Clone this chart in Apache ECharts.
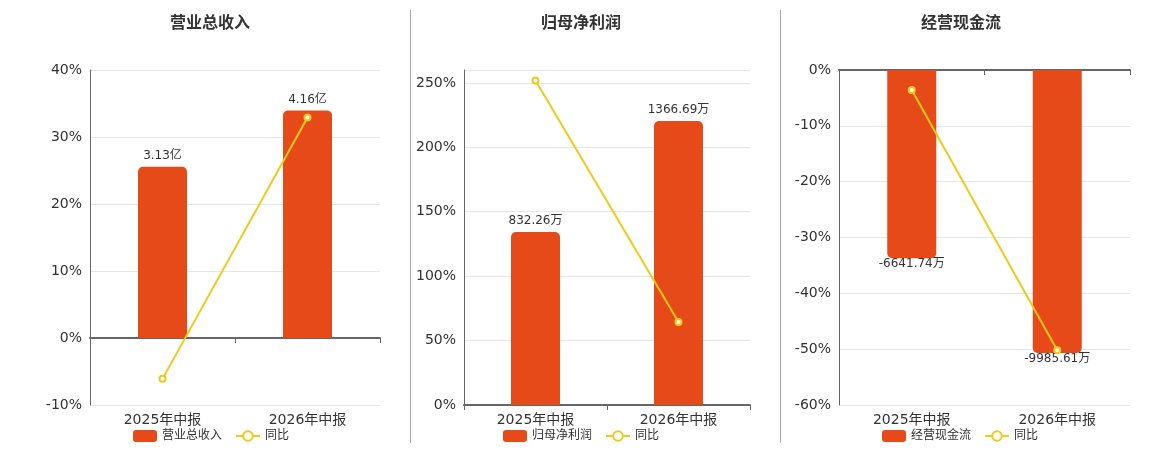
<!DOCTYPE html>
<html>
<head>
<meta charset="utf-8">
<script src="https://cdn.jsdelivr.net/npm/echarts@6/dist/echarts.min.js"></script>
<style>
html,body{margin:0;padding:0;background:#fff}
#main{width:1160px;height:450px}
</style>
</head>
<body>
<div id="main"></div>
<script>
// 数据
var categories = ['2025年中报', '2026年中报'];
var panelTitles = ['营业总收入', '归母净利润', '经营现金流'];
var yoyName = '同比';
var revenue = [3.13, 4.16];            // 亿
var revenueYoy = [-6.1, 32.9];         // %
var netProfit = [832.26, 1366.69];     // 万
var netProfitYoy = [251.8, 64.4];      // %
var cashFlow = [-6641.74, -9985.61];   // 万
var cashFlowYoy = [-3.6, -50.2];       // %

var barColor = '#E64A19';
var lineColor = '#F2C81A';
var font = '"DejaVu Sans", "Noto Sans CJK SC", sans-serif';

var panels = [
  {title: panelTitles[0], bars: revenue, yoy: revenueYoy, unit: '亿', left: 90, width: 290,
   pct: {min: -10, max: 40, interval: 10}, hid: {min: -1.225, max: 4.9}, center: 210, legendLeft: 128},
  {title: panelTitles[1], bars: netProfit, yoy: netProfitYoy, unit: '万', left: 464, width: 286,
   pct: {min: 0, max: 260, interval: 50}, hid: {min: 0, max: 1612}, center: 581, legendLeft: 498},
  {title: panelTitles[2], bars: cashFlow, yoy: cashFlowYoy, unit: '万', left: 839, width: 291,
   pct: {min: -60, max: 0, interval: 10}, hid: {min: -11820, max: 0}, center: 961, legendLeft: 877}
];

var option = {
  animation: false,
  textStyle: {fontFamily: font},
  grid: [], xAxis: [], yAxis: [], series: [], legend: [],
  graphic: [
    {type: 'line', shape: {x1: 410.5, y1: 10, x2: 410.5, y2: 443}, style: {stroke: '#aaa', lineWidth: 1}},
    {type: 'line', shape: {x1: 780.5, y1: 10, x2: 780.5, y2: 443}, style: {stroke: '#aaa', lineWidth: 1}}
  ]
};

panels.forEach(function (p, i) {
  option.grid.push({left: p.left, top: 70, width: p.width, height: 335});
  // x轴: 标签在底部
  option.xAxis.push({
    type: 'category', gridIndex: i, data: categories, position: 'bottom',
    axisLine: {show: false, onZero: false}, axisTick: {show: false},
    axisLabel: {fontSize: 14, color: '#333', margin: 8, fontFamily: font}
  });
  // x轴: 零线
  option.xAxis.push({
    type: 'category', gridIndex: i, data: categories, position: 'bottom',
    axisLine: {onZero: true, onZeroAxisIndex: i * 2, lineStyle: {color: '#666', width: 2}},
    axisTick: {show: true, length: 5, lineStyle: {color: '#666'}},
    axisLabel: {show: false}
  });
  option.yAxis.push({
    type: 'value', gridIndex: i, min: p.pct.min, max: p.pct.max, interval: p.pct.interval,
    axisLine: {show: true, lineStyle: {color: '#666'}},
    axisTick: {show: false},
    axisLabel: {fontSize: 14, color: '#333', formatter: '{value}%', showMaxLabel: i !== 1, fontFamily: font},
    splitLine: {lineStyle: {color: '#e6e6e6'}}
  });
  option.yAxis.push({
    type: 'value', gridIndex: i, min: p.hid.min, max: p.hid.max, show: false,
    splitLine: {show: false}
  });
  option.series.push({
    name: p.title, type: 'bar', xAxisIndex: i * 2, yAxisIndex: i * 2 + 1, barWidth: 49,
    itemStyle: {color: barColor},
    label: {show: true, fontSize: 12, color: '#333', fontFamily: font,
      formatter: function (d) { return d.value + p.unit; }},
    data: p.bars.map(function (v) {
      return {
        value: v,
        itemStyle: {borderRadius: v < 0 ? [0, 0, 5, 5] : [5, 5, 0, 0]},
        label: {position: v < 0 ? 'bottom' : 'top', distance: v < 0 ? 0 : 5}
      };
    })
  });
  option.series.push({
    name: yoyName, type: 'line', xAxisIndex: i * 2, yAxisIndex: i * 2,
    symbol: 'emptyCircle', symbolSize: 6,
    lineStyle: {color: lineColor, width: 2},
    itemStyle: {color: lineColor, borderWidth: 1.5},
    data: p.yoy
  });
  option.legend.push({
    left: p.legendLeft, top: 425, itemWidth: 24, itemHeight: 12, itemGap: 13,
    textStyle: {fontSize: 12, color: '#333', fontFamily: font},
    data: [p.title, yoyName]
  });
  option.graphic.push({
    type: 'text', x: p.center, y: 24,
    style: {text: p.title, fill: '#333', font: 'bold 16px ' + font, textAlign: 'center', textVerticalAlign: 'middle'}
  });
});

var chart = echarts.init(document.getElementById('main'));
chart.setOption(option);
</script>
</body>
</html>
